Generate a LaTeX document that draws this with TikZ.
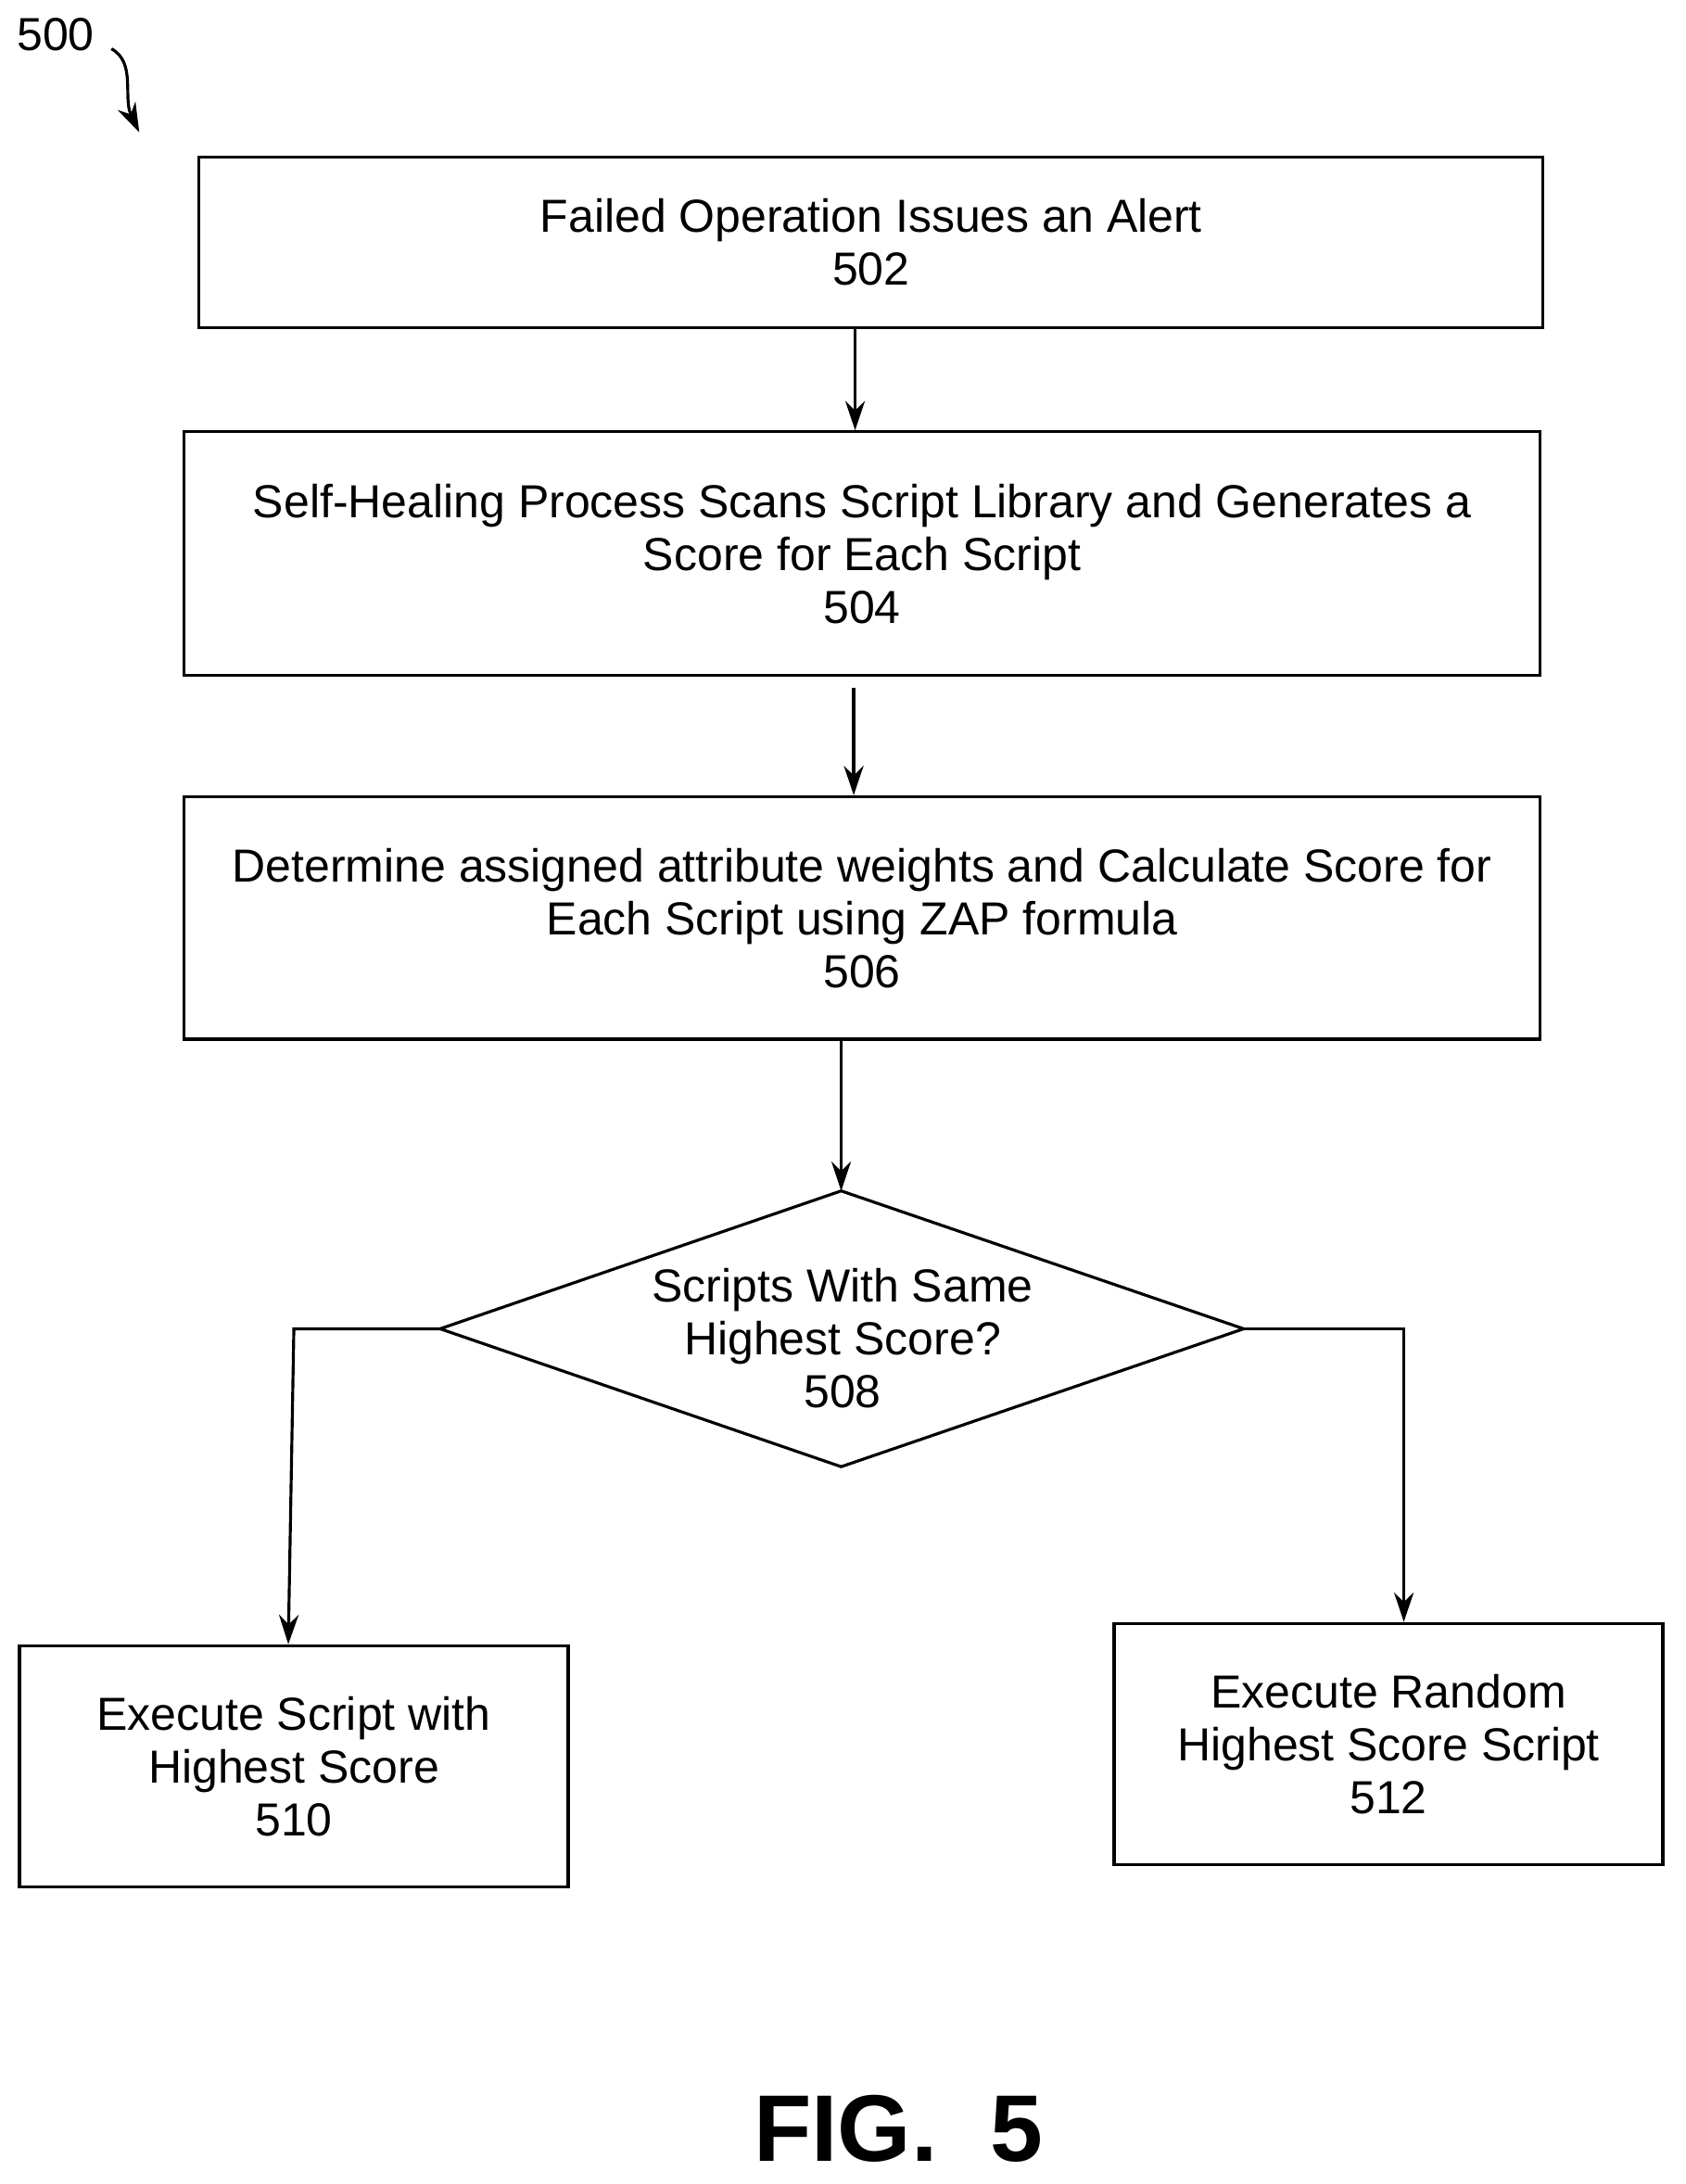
\documentclass[tikz,border=0pt]{standalone}
\usepackage{fontspec}
\setmainfont{Liberation Sans}
\usetikzlibrary{arrows.meta}

\begin{document}
\begin{tikzpicture}[x=0.015cm, y=-0.015cm,
    box/.style = {draw, line width=0.9pt, align=center, inner sep=0pt, font=\fontsize{14.2}{16.2}\selectfont},
    ar/.style = {line width=0.9pt, -{Stealth[length=9pt, width=6pt]}}]
    \useasboundingbox (0,0) rectangle (1210,1568);

    \node[box, minimum width=14.475cm, minimum height=1.83cm] (s502) at (625.5,174) {Failed Operation Issues an Alert\\502};
    \node[box, minimum width=14.61cm, minimum height=2.625cm] (s504) at (619,397.5) {Self-Healing Process Scans Script Library and Generates a\\Score for Each Script\\504};
    \node[box, minimum width=14.61cm, minimum height=2.61cm] (s506) at (619,659) {Determine assigned attribute weights and Calculate Score for\\Each Script using ZAP formula\\506};

    % decision
    \coordinate (dtop) at (604,855);
    \coordinate (dleft) at (316,954);
    \coordinate (dright) at (893,954);
    \coordinate (dbot) at (604,1053);
    \draw[line width=0.9pt] (dtop) -- (dright) -- (dbot) -- (dleft) -- cycle;
    \node[align=center, font=\fontsize{14.2}{16.2}\selectfont] (s508) at (605,961) {Scripts With Same\\Highest Score?\\508};

    \node[box, minimum width=5.91cm, minimum height=2.595cm] (s510) at (211,1268) {Execute Script with\\Highest Score\\510};
    \node[box, minimum width=5.91cm, minimum height=2.595cm] (s512) at (997,1252) {Execute Random\\Highest Score Script\\512};

    \node[font=\fontsize{14.2}{16}\selectfont] (n500) at (40,25) {500};
    \node[font=\bfseries\fontsize{29}{32}\selectfont] (fig) at (645,1528) {FIG.\ \ 5};

    \coordinate (c500) at (80,35);
    \draw[ar] (c500) .. controls (98,45) and (88,70) .. (100,95);
    \draw[ar] (s502.south -| 614,0) -- (s504.north -| 614,0);
    \draw[ar] (613,494) -- (s506.north -| 613,0);
    \draw[ar] (s506.south -| dtop) -- (dtop);
    \draw[ar] (dleft) -- (211,954) -- (s510.north -| 207,0);
    \draw[ar] (dright) -- (1008,954) -- (s512.north -| 1008,0);
\end{tikzpicture}
\end{document}
